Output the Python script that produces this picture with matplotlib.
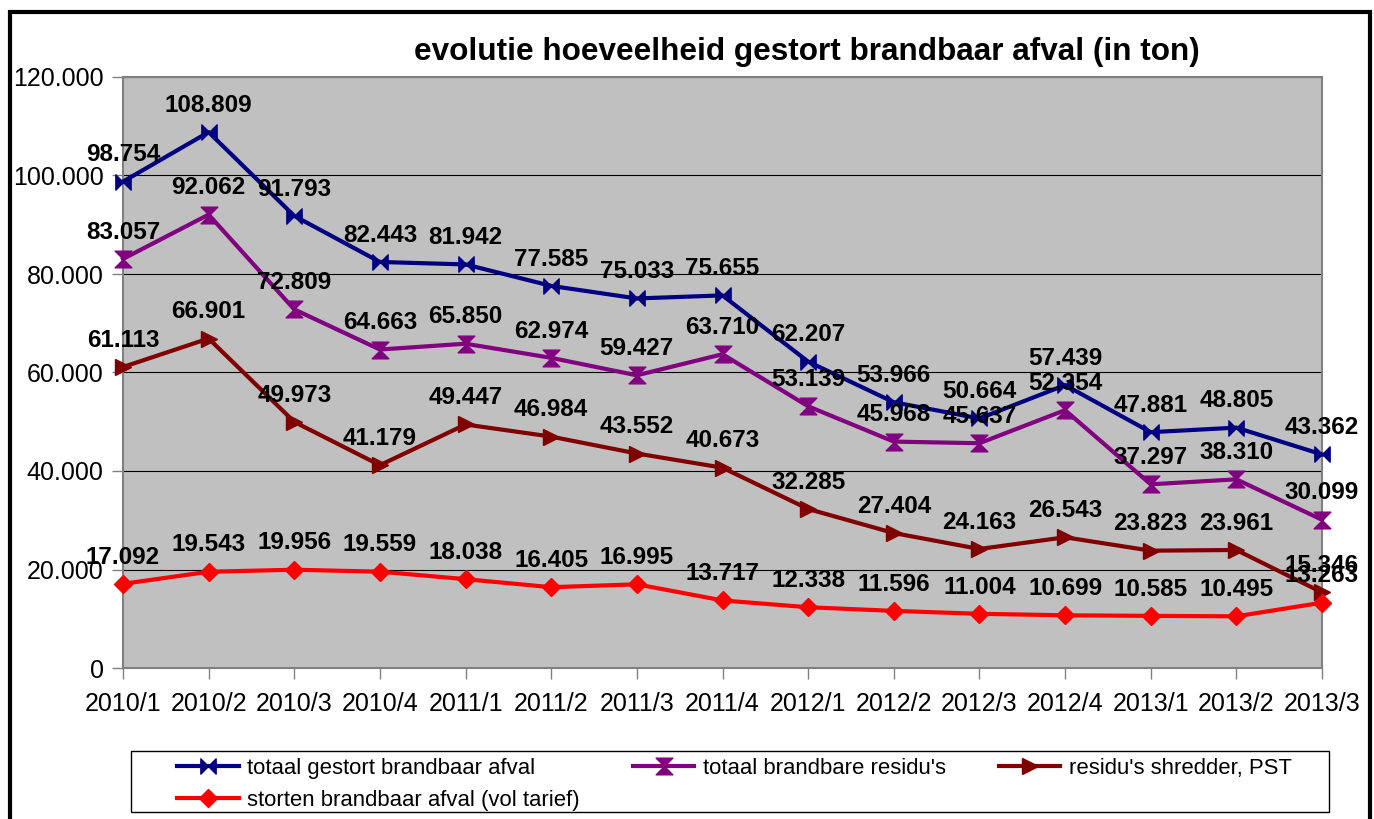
import matplotlib.pyplot as plt
import numpy as np
from matplotlib.patches import Rectangle
from matplotlib.path import Path

plt.rcParams['font.family'] = ['Liberation Sans', 'DejaVu Sans']

periods = ["2010/1", "2010/2", "2010/3", "2010/4", "2011/1", "2011/2", "2011/3", "2011/4",
           "2012/1", "2012/2", "2012/3", "2012/4", "2013/1", "2013/2", "2013/3"]
totaal = [98754, 108809, 91793, 82443, 81942, 77585, 75033, 75655,
          62207, 53966, 50664, 57439, 47881, 48805, 43362]
residus = [83057, 92062, 72809, 64663, 65850, 62974, 59427, 63710,
           53139, 45968, 45637, 52354, 37297, 38310, 30099]
shredder = [61113, 66901, 49973, 41179, 49447, 46984, 43552, 40673,
            32285, 27404, 24163, 26543, 23823, 23961, 15346]
storten = [17092, 19543, 19956, 19559, 18038, 16405, 16995, 13717,
           12338, 11596, 11004, 10699, 10585, 10495, 13263]
yticks = [0, 20000, 40000, 60000, 80000, 100000, 120000]


def fmt(v):
    return f"{v:,}".replace(",", ".")


bowtie = Path([(-1, -1), (-1, 1), (1, -1), (1, 1), (-1, -1)],
              [Path.MOVETO, Path.LINETO, Path.LINETO, Path.LINETO, Path.CLOSEPOLY])
hourglass = Path([(-1, 1), (1, 1), (-1, -1), (1, -1), (-1, 1)],
                 [Path.MOVETO, Path.LINETO, Path.LINETO, Path.LINETO, Path.CLOSEPOLY])

fig = plt.figure(figsize=(13.74, 8.19), dpi=100)
ax = fig.add_axes([123 / 1374, 1 - 668 / 819, 1199 / 1374, 591 / 819])
ax.set_facecolor('#c0c0c0')

x = np.arange(len(periods))
series = [
    (totaal, '#000080', bowtie, 11, "totaal gestort brandbaar afval"),
    (residus, '#800080', hourglass, 12, "totaal brandbare residu's"),
    (shredder, '#800000', '>', 12, "residu's shredder, PST"),
    (storten, '#ff0000', 'D', 9, "storten brandbaar afval (vol tarief)"),
]
handles = {}
for vals, col, mk, ms, lab in series:
    h, = ax.plot(x, vals, color=col, lw=3, marker=mk, ms=ms, mec=col, mfc=col,
                 label=lab, clip_on=False, zorder=3)
    handles[lab] = h
    for xi, v in zip(x, vals):
        ax.annotate(fmt(v), (xi, v), xytext=(0, 11), textcoords='offset points',
                    ha='center', va='bottom', fontsize=17.5, fontweight='bold',
                    color='black', zorder=5, annotation_clip=False)

ax.set_xlim(0, len(periods) - 1)
ax.set_ylim(0, 120000)
ax.set_yticks(yticks)
ax.set_yticklabels([fmt(v) for v in yticks], fontsize=18)
ax.set_xticks(x)
ax.set_xticklabels(periods, fontsize=18)
ax.yaxis.grid(True, color='black', lw=0.8)
ax.set_axisbelow(True)
for s in ax.spines.values():
    s.set_color('#808080')
    s.set_linewidth(1.5)
ax.tick_params(axis='both', color='#808080', length=8, width=1)
ax.tick_params(axis='x', pad=9)
ax.tick_params(axis='y', pad=6)

fig.text(807 / 1374, 1 - 52 / 819, "evolutie hoeveelheid gestort brandbaar afval (in ton)",
         ha='center', va='center', fontsize=22.7, fontweight='bold')

# legend box and entries
fig.patches.append(Rectangle((131 / 1374, 1 - 812 / 819), 1198 / 1374, 61 / 819,
                             transform=fig.transFigure, fill=False, ec='black', lw=1))
order = ["totaal gestort brandbaar afval", "storten brandbaar afval (vol tarief)",
         "totaal brandbare residu's", "residu's shredder, PST"]
fig.legend([handles[k] for k in order], order, ncol=3, loc='upper left',
           bbox_to_anchor=(177 / 1374, 1 - 758 / 819), frameon=False, fontsize=15.9,
           borderpad=0, borderaxespad=0, handlelength=2.8, handletextpad=0.37,
           columnspacing=2.4, labelspacing=0.5)

# outer frame
fig.patches.append(Rectangle((10 / 1374, -0.05), 1360 / 1374, 1.05 - 12 / 819,
                             transform=fig.transFigure, fill=False, ec='black', lw=3))

fig.savefig('out.png', dpi=100)
